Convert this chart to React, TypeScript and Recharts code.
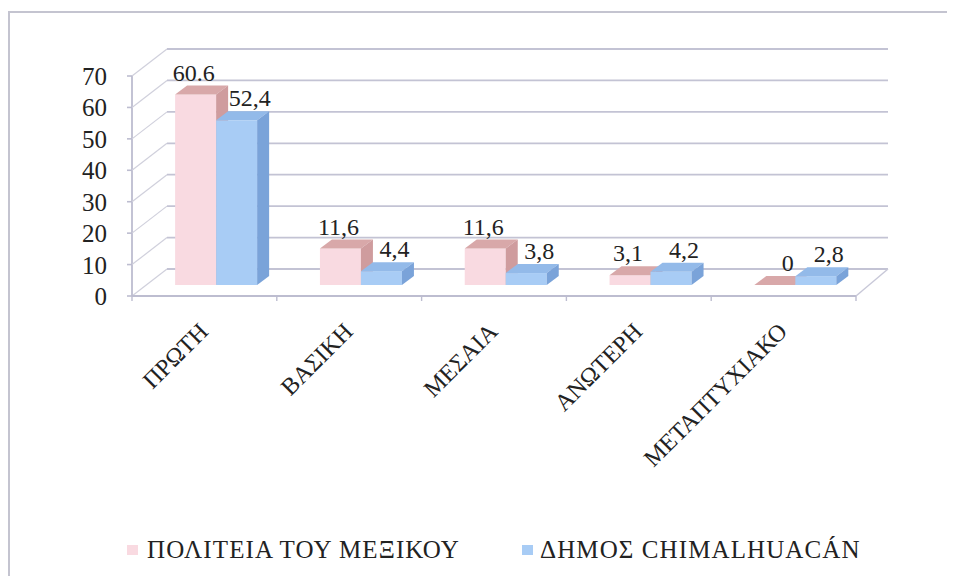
import React, { useLayoutEffect } from 'react';
import { BarChart, Bar, XAxis, YAxis, CartesianGrid, LabelList, Legend } from 'recharts';

const categories = ['ΠΡΩΤΗ', 'ΒΑΣΙΚΗ', 'ΜΕΣΑΙΑ', 'ΑΝΩΤΕΡΗ', 'ΜΕΤΑΠΤΥΧΙΑΚΟ'];
const mexicoValues = [60.6, 11.6, 11.6, 3.1, 0];
const chimalValues = [52.4, 4.4, 3.8, 4.2, 2.8];
const mexicoLabels = ['60.6', '11,6', '11,6', '3,1', '0'];
const chimalLabels = ['52,4', '4,4', '3,8', '4,2', '2,8'];
const yTicks = [0, 10, 20, 30, 40, 50, 60, 70];
const seriesNames = ['ΠΟΛΙΤΕΙΑ ΤΟΥ ΜΕΞΙΚΟΥ', 'ΔΗΜΟΣ CHIMALHUACÁN'];

const data = categories.map((c, i) => ({ name: c, mexico: mexicoValues[i], chimal: chimalValues[i] }));

const W = 947;
const H = 568;
const PLOT_LEFT = 136;
const PLOT_RIGHT = 860;
const PLOT_TOP = 57;
const PLOT_BOTTOM = 277;
const BAND = (PLOT_RIGHT - PLOT_LEFT) / categories.length;
const FDX = -12;
const FDY = 11;
const BDXL = 23;
const BDXR = 20;
const BDY = -16;
const DDX = 12;
const DDY = 9;
const FONT = "'Liberation Serif', 'DejaVu Serif', 'Noto Serif', Tinos, serif";
const TEXT = '#222';
const GRID = '#c3c3d4';

const PINK = { front: '#f9dae1', top: '#d8a8a9', side: '#cf9c9e' };
const BLUE = { front: '#a8ccf5', top: '#93bae9', side: '#7aa3d9' };

const makeShape = (col: any) => (props: any) => {
  const { x, y, width, height } = props;
  if (x == null || y == null) return null;
  const w = width || 0;
  const h = Math.max(0, height || 0);
  return (
    <g>
      <rect x={x} y={y} width={w} height={h} fill={col.front} />
      <polygon
        points={`${x},${y} ${x + DDX},${y - DDY} ${x + w + DDX},${y - DDY} ${x + w},${y}`}
        fill={col.top}
      />
      <polygon
        points={`${x + w},${y} ${x + w + DDX},${y - DDY} ${x + w + DDX},${y + h - DDY} ${x + w},${y + h}`}
        fill={col.side}
      />
    </g>
  );
};

const makeLabel = (labels: string[], dxFn: (v: number) => number) => (p: any) => {
  const { x, y, width, index, value } = p;
  return (
    <text
      x={x + width / 2 + dxFn(value)}
      y={y - 14}
      textAnchor="middle"
      style={{ fontFamily: FONT }}
      fontSize={24}
      fill={TEXT}
    >
      {labels[index]}
    </text>
  );
};

const gridLine = (p: any) => {
  const y = p.y1;
  const isBase = Math.abs(y - PLOT_BOTTOM) < 0.5;
  return (
    <g key={p.key ?? `h-${p.index}`}>
      <line x1={PLOT_LEFT + BDXL} y1={y + BDY} x2={PLOT_RIGHT + BDXR} y2={y + BDY} stroke={GRID} strokeWidth={1.8} />
      <line x1={PLOT_LEFT + FDX} y1={y + FDY} x2={PLOT_LEFT + BDXL} y2={y + BDY} stroke="#d0d0dc" strokeWidth={1.2} />
      {isBase && (
        <g>
          <line x1={PLOT_LEFT + FDX} y1={y + FDY} x2={PLOT_RIGHT + FDX} y2={y + FDY} stroke="#bdbdd0" strokeWidth={1.8} />
          <line x1={PLOT_RIGHT + FDX} y1={y + FDY} x2={PLOT_RIGHT + BDXR} y2={y + BDY} stroke="#c8c8d8" strokeWidth={1.4} />
          <line x1={PLOT_LEFT + FDX} y1={PLOT_TOP + FDY} x2={PLOT_LEFT + FDX} y2={y + FDY} stroke="#bdbdd0" strokeWidth={1.8} />
        </g>
      )}
    </g>
  );
};

const YTick = (p: any) => {
  const { y, payload } = p;
  const fy = y + FDY;
  return (
    <g>
      <line x1={PLOT_LEFT + FDX - 5} y1={fy} x2={PLOT_LEFT + FDX} y2={fy} stroke="#bdbdd0" strokeWidth={1.6} />
      <text x={PLOT_LEFT - 37} y={fy + 9} textAnchor="end" style={{ fontFamily: FONT }} fontSize={25} fill={TEXT}>
        {payload.value}
      </text>
    </g>
  );
};

const XTick = (p: any) => {
  const { x, payload, index } = p;
  const fx = x + FDX;
  const fy = PLOT_BOTTOM + FDY;
  const ax = fx + 5;
  const ay = fy + 37;
  return (
    <g>
      <line x1={fx - BAND / 2} y1={fy} x2={fx - BAND / 2} y2={fy + 5} stroke="#bdbdd0" strokeWidth={1.4} />
      {index === categories.length - 1 && (
        <line x1={fx + BAND / 2} y1={fy} x2={fx + BAND / 2} y2={fy + 5} stroke="#bdbdd0" strokeWidth={1.4} />
      )}
      <text
        x={ax}
        y={ay}
        transform={`rotate(-45, ${ax}, ${ay})`}
        textAnchor="end"
        style={{ fontFamily: FONT }}
        fontSize={24}
        fill={TEXT}
      >
        {payload.value}
      </text>
    </g>
  );
};

const LegendContent = () => {
  const items = [
    { name: seriesNames[0], color: PINK.front, mx: 119, tx: 139 },
    { name: seriesNames[1], color: BLUE.front, mx: 514, tx: 532 },
  ];
  return (
    <div style={{ position: 'relative', width: W, height: 0 }}>
      {items.map((it) => (
        <React.Fragment key={it.name}>
          <div style={{ position: 'absolute', left: it.mx, top: 537, width: 11, height: 10, background: it.color }} />
          <div
            style={{
              position: 'absolute',
              left: it.tx,
              top: 529,
              fontFamily: FONT,
              fontSize: 25,
              lineHeight: '25px',
              letterSpacing: '1.1px',
              color: TEXT,
              whiteSpace: 'nowrap',
            }}
          >
            {it.name}
          </div>
        </React.Fragment>
      ))}
    </div>
  );
};

export default function App() {
  useLayoutEffect(() => {
    document.documentElement.style.overflow = 'hidden';
    document.body.style.overflow = 'hidden';
  }, []);
  return (
    <div style={{ position: 'relative', width: W, height: H, background: '#fff' }}>
      <div
        style={{
          position: 'absolute',
          left: 0,
          top: 3,
          width: W,
          height: H - 3,
          borderLeft: '2px solid #c4c4d0',
          borderTop: '2px solid #c4c4d0',
          boxSizing: 'border-box',
        }}
      />
      <BarChart
        width={W}
        height={H}
        data={data}
        accessibilityLayer={false}
        style={{ outline: 'none' }}
        margin={{ top: PLOT_TOP, right: W - PLOT_RIGHT, bottom: H - PLOT_BOTTOM - 40, left: 0 }}
        barCategoryGap="21.5%"
        barGap={0}
      >
        <CartesianGrid horizontal={gridLine} vertical={false} />
        <XAxis dataKey="name" height={40} axisLine={false} tickLine={false} tick={<XTick />} interval={0} />
        <YAxis
          width={PLOT_LEFT}
          domain={[0, 70]}
          ticks={yTicks}
          axisLine={false}
          tickLine={false}
          tick={<YTick />}
          interval={0}
        />
        <Legend
          content={<LegendContent />}
          wrapperStyle={{ position: 'absolute', left: 0, top: 0, width: W, height: 0 }}
        />
        <Bar dataKey="mexico" name={seriesNames[0]} fill={PINK.front} shape={makeShape(PINK)} isAnimationActive={false}>
          <LabelList dataKey="mexico" content={makeLabel(mexicoLabels, (v) => (v === 0 ? 13 : -2))} />
        </Bar>
        <Bar dataKey="chimal" name={seriesNames[1]} fill={BLUE.front} shape={makeShape(BLUE)} isAnimationActive={false}>
          <LabelList dataKey="chimal" content={makeLabel(chimalLabels, () => 13)} />
        </Bar>
      </BarChart>
    </div>
  );
}
